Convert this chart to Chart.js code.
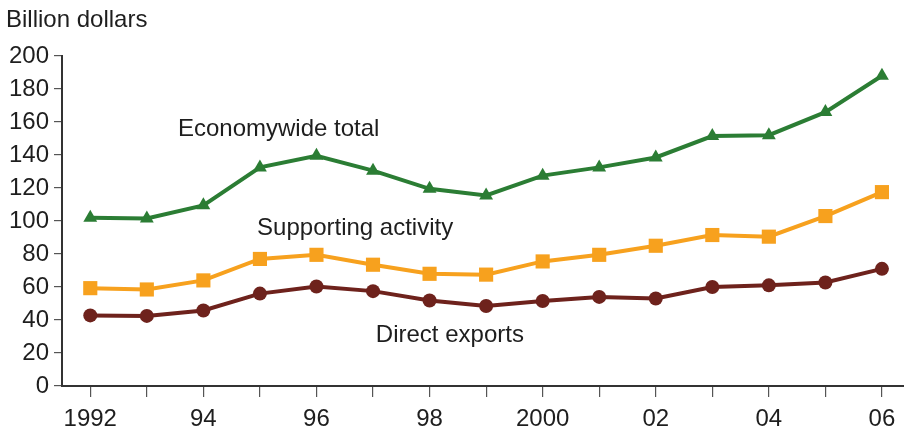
<!DOCTYPE html>
<html>
<head>
<meta charset="utf-8">
<script src="https://cdn.jsdelivr.net/npm/chart.js@4.4.1/dist/chart.umd.min.js"></script>
<style>
  html, body { margin: 0; padding: 0; background: #ffffff; }
  #wrap { width: 904px; height: 429px; position: relative; }
</style>
</head>
<body>
<div id="wrap"><canvas id="chart" width="904" height="429"></canvas></div>
<script>
// Years on the horizontal axis
const years = [1992, 1993, 1994, 1995, 1996, 1997, 1998, 1999, 2000, 2001, 2002, 2003, 2004, 2005, 2006];

// Export-supported output, billion dollars
const economywideTotal = [102, 101.5, 109.5, 132.5, 139.5, 130.5, 119.5, 115.5, 127.5, 132.5, 138.5, 151.5, 152, 166, 188];
const supportingActivity = [59.3, 58.5, 64, 77, 79.5, 73.5, 68, 67.5, 75.5, 79.5, 85, 91.5, 90.5, 103, 117.5];
const directExports = [42.8, 42.5, 45.8, 56, 60.3, 57.5, 51.8, 48.5, 51.5, 54, 53, 60, 61, 62.7, 71];

// Y-axis ticks
const yTicks = [0, 20, 40, 60, 80, 100, 120, 140, 160, 180, 200];

// Line labels: text, anchor year, anchor value
const seriesLabels = [
  { text: 'Economywide total', year: 1993.55, value: 155.3 },
  { text: 'Supporting activity', year: 1994.95, value: 95.3 },
  { text: 'Direct exports', year: 1997.05, value: 30.6 }
];

const FONT = '"Liberation Sans", Arial, Helvetica, sans-serif';
const GREEN = '#2b7d34';
const ORANGE = '#f7a11e';
const MAROON = '#6e221c';
const INK = '#1e1e1e';

function yearLabel(y) {
  if (y % 2 !== 0) return '';
  if (y === 1992 || y === 2000) return String(y);
  return String(y % 100).padStart(2, '0');
}

function pts(values) {
  return years.map((y, i) => ({ x: y, y: values[i] }));
}

const textPlugin = {
  id: 'textPlugin',
  afterDatasetsDraw(chart) {
    const ctx = chart.ctx;
    const xs = chart.scales.x;
    const ys = chart.scales.y;
    ctx.save();
    ctx.fillStyle = INK;
    ctx.font = '24px ' + FONT;
    ctx.textAlign = 'left';
    ctx.textBaseline = 'middle';
    seriesLabels.forEach(l => {
      ctx.fillText(l.text, xs.getPixelForValue(l.year), ys.getPixelForValue(l.value));
    });
    ctx.textBaseline = 'alphabetic';
    ctx.fillText('Billion dollars', 6, 27);
    ctx.restore();
  }
};

new Chart(document.getElementById('chart'), {
  type: 'line',
  data: {
    datasets: [
      {
        label: 'Economywide total',
        data: pts(economywideTotal),
        borderColor: GREEN,
        backgroundColor: GREEN,
        borderWidth: 4,
        pointStyle: 'triangle',
        pointRadius: 8,
        pointBorderWidth: 0,
        tension: 0,
        clip: false
      },
      {
        label: 'Supporting activity',
        data: pts(supportingActivity),
        borderColor: ORANGE,
        backgroundColor: ORANGE,
        borderWidth: 4,
        pointStyle: 'rect',
        pointRadius: 10,
        pointBorderWidth: 0,
        tension: 0,
        clip: false
      },
      {
        label: 'Direct exports',
        data: pts(directExports),
        borderColor: MAROON,
        backgroundColor: MAROON,
        borderWidth: 4,
        pointStyle: 'circle',
        pointRadius: 7,
        pointBorderWidth: 0,
        tension: 0,
        clip: false
      }
    ]
  },
  options: {
    responsive: false,
    animation: false,
    layout: { autoPadding: false, padding: { top: 56, right: 0, bottom: 0, left: 0 } },
    plugins: {
      legend: { display: false },
      tooltip: { enabled: false },
      title: { display: false }
    },
    scales: {
      x: {
        type: 'linear',
        min: 1991.5,
        max: 2006.39,
        afterFit(scale) { scale.height = 43; },
        afterBuildTicks(scale) { scale.ticks = years.map(v => ({ value: v })); },
        ticks: {
          autoSkip: false,
          maxRotation: 0,
          padding: 8,
          color: INK,
          font: { family: FONT, size: 24 },
          callback: v => yearLabel(v)
        },
        grid: {
          display: true,
          drawOnChartArea: false,
          drawTicks: true,
          tickLength: 11,
          color: '#555555',
          lineWidth: 1.2
        },
        border: { display: true, color: '#333333', width: 2 }
      },
      y: {
        type: 'linear',
        min: 0,
        max: 200,
        afterFit(scale) { scale.width = 62; },
        afterBuildTicks(scale) { scale.ticks = yTicks.map(v => ({ value: v })); },
        ticks: {
          padding: 5,
          color: INK,
          font: { family: FONT, size: 24 }
        },
        grid: {
          display: true,
          drawOnChartArea: false,
          drawTicks: true,
          tickLength: 8,
          color: '#555555',
          lineWidth: 1.2
        },
        border: { display: true, color: '#333333', width: 2 }
      }
    }
  },
  plugins: [textPlugin]
});
</script>
</body>
</html>
